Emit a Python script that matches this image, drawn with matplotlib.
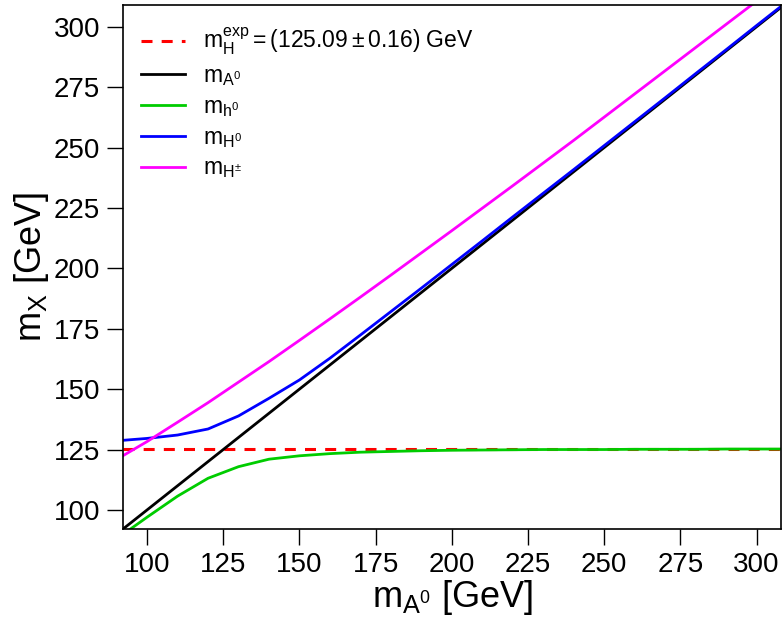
import matplotlib
matplotlib.use("Agg")
import matplotlib.pyplot as plt

plt.rcParams["font.family"] = ["Liberation Sans", "DejaVu Sans"]
plt.rcParams["mathtext.fontset"] = "custom"
plt.rcParams["mathtext.rm"] = "Liberation Sans"
plt.rcParams["mathtext.it"] = "Liberation Sans"
plt.rcParams["mathtext.bf"] = "Liberation Sans:bold"

# values (GeV)
m_A = [90, 100, 110, 120, 130, 140, 150, 160, 170, 180, 190, 200, 210, 220, 230,
       240, 250, 260, 270, 280, 290, 300, 310]
m_h = [88.0, 97.0, 105.7, 113.1, 117.9, 121.0, 122.4, 123.3, 123.9, 124.2, 124.5,
       124.7, 124.8, 124.9, 125.0, 125.0, 125.0, 125.1, 125.1, 125.1, 125.2, 125.2, 125.2]
m_H = [128.6, 129.6, 131.0, 133.5, 138.9, 146.2, 153.8, 162.8, 172.4, 182.1, 191.8,
       201.6, 211.4, 221.3, 231.1, 240.9, 250.8, 260.7, 270.6, 280.6, 290.5, 300.5, 310.4]
m_Hpm = [120.9, 128.3, 136.3, 144.4, 152.9, 161.4, 170.2, 179.1, 188.1, 197.2, 206.4,
         215.6, 224.9, 234.2, 243.6, 253.0, 262.6, 272.2, 281.8, 291.4, 301.0, 310.6, 320.2]
m_H_exp = 125.09

fig = plt.figure(figsize=(7.82, 6.18), dpi=100)
ax = fig.add_axes([0.1573, 0.144, 0.8414, 0.8479])

ax.axhline(m_H_exp, color="#ff0000", lw=2.2, ls=(0, (3.6, 3.0)),
           label=r"$\mathrm{m_H^{exp}} = (125.09 \pm 0.16)$ GeV")
ax.plot(m_A, m_A, color="black", lw=2, label=r"$\mathrm{m_{A^0}}$")
ax.plot(m_A, m_h, color="#00cc00", lw=2, label=r"$\mathrm{m_{h^0}}$")
ax.plot(m_A, m_H, color="#0000ff", lw=2, label=r"$\mathrm{m_{H^0}}$")
ax.plot(m_A, m_Hpm, color="#ff00ff", lw=2, label=r"$\mathrm{m_{H^{\pm}}}$")

ax.set_xlim(92.1, 308)
ax.set_ylim(92.1, 309)
ticks = [100, 125, 150, 175, 200, 225, 250, 275, 300]
ax.set_xticks(ticks)
ax.set_yticks(ticks)
ax.tick_params(direction="out", length=11.5, width=1, labelsize=20, pad=5,
               top=False, right=False)
for s in ax.spines.values():
    s.set_linewidth(1.2)

ax.set_xlabel(r"$\mathrm{m_{A^0}}$ [GeV]", fontsize=26, labelpad=0)
ax.set_ylabel(r"$\mathrm{m_X}$ [GeV]", fontsize=26, labelpad=2)

ax.legend(loc="upper left", bbox_to_anchor=(0, 0.995), frameon=False,
          fontsize=16.5, handlelength=1.9, handletextpad=0.8,
          labelspacing=0.3, borderaxespad=0.4)

fig.savefig("out.png", dpi=100)
